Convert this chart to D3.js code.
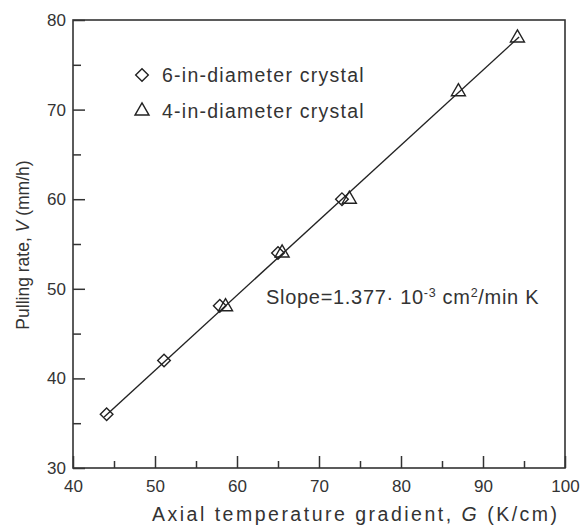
<!DOCTYPE html>
<html>
<head>
<meta charset="utf-8">
<script src="https://cdn.jsdelivr.net/npm/d3@7"></script>
<style>
  html, body { margin: 0; padding: 0; background: #fff; }
  svg { display: block; font-family: "Liberation Sans", Arial, sans-serif; }
</style>
</head>
<body>
<svg id="chart" width="581" height="529"></svg>
<script>
// ---- data ----
const crystal6G = [44.1, 51.1, 57.9, 65.0, 72.8];
const crystal6V = [36.0, 42.0, 48.1, 54.0, 60.0];
const crystal4G = [58.6, 65.5, 73.7, 87.0, 94.2];
const crystal4V = [48.0, 54.0, 60.0, 72.0, 78.0];
const fitG = [43.8, 94.4];
const fitV = [35.7, 78.1];
const xTicks = [40, 50, 60, 70, 80, 90, 100];
const xMinor = [45, 55, 65, 75, 85, 95];
const yTicks = [30, 40, 50, 60, 70, 80];
const yMinor = [35, 45, 55, 65, 75];
const legendLabels = ["6-in-diameter crystal", "4-in-diameter crystal"];

const W = 581, H = 529;
const m = {left: 73, top: 20, right: 16, bottom: 61};
const iw = W - m.left - m.right, ih = H - m.top - m.bottom;
const ink = "#333";

const svg = d3.select("#chart");
const g = svg.append("g").attr("transform", `translate(${m.left},${m.top})`);

const x = d3.scaleLinear().domain([40, 100]).range([0, iw]);
const y = d3.scaleLinear().domain([30, 80]).range([ih, 0]);

// frame
g.append("rect").attr("x", 0).attr("y", 0).attr("width", iw).attr("height", ih)
  .attr("fill", "none").attr("stroke", ink).attr("stroke-width", 1.6);

// bottom axis (ticks inward)
g.append("g").attr("transform", `translate(0,${ih})`)
  .call(d3.axisBottom(x).tickValues(xTicks).tickSize(-12).tickPadding(12).tickFormat(d3.format("d")));
g.append("g").attr("transform", `translate(0,${ih})`)
  .call(d3.axisBottom(x).tickValues(xMinor).tickSize(-7).tickFormat(""));
// left axis
g.append("g")
  .call(d3.axisLeft(y).tickValues(yTicks).tickSize(-12).tickPadding(7).tickFormat(d3.format("d")));
g.append("g")
  .call(d3.axisLeft(y).tickValues(yMinor).tickSize(-8).tickFormat(""));

g.selectAll(".domain").remove();
g.selectAll(".tick line").attr("stroke", ink).attr("stroke-width", 1.5);
g.selectAll(".tick text").attr("fill", ink).attr("font-size", 17)
  .attr("font-family", "Liberation Sans, Arial, sans-serif");

// fit line
const fit = fitG.map((v, i) => [v, fitV[i]]);
g.append("path").datum(fit)
  .attr("d", d3.line().x(d => x(d[0])).y(d => y(d[1])))
  .attr("fill", "none").attr("stroke", "#222").attr("stroke-width", 1.4);

// markers
const diamond = d3.symbol(d3.symbolSquare, 80)();
const tri = d3.symbol(d3.symbolTriangle, 85)();
const d6 = crystal6G.map((v, i) => [v, crystal6V[i]]);
const d4 = crystal4G.map((v, i) => [v, crystal4V[i]]);
g.selectAll(".m6").data(d6).join("path")
  .attr("d", diamond)
  .attr("transform", d => `translate(${x(d[0])},${y(d[1])}) rotate(45)`)
  .attr("fill", "none").attr("stroke", "#222").attr("stroke-width", 1.4);
g.selectAll(".m4").data(d4).join("path")
  .attr("d", tri)
  .attr("transform", d => `translate(${x(d[0])},${y(d[1])})`)
  .attr("fill", "none").attr("stroke", "#222").attr("stroke-width", 1.4);

// legend
const leg = svg.append("g");
leg.append("path").attr("d", diamond).attr("transform", "translate(142,75) rotate(45)")
  .attr("fill", "none").attr("stroke", "#222").attr("stroke-width", 1.4);
leg.append("path").attr("d", tri).attr("transform", "translate(142,111)")
  .attr("fill", "none").attr("stroke", "#222").attr("stroke-width", 1.4);
leg.selectAll("text").data(legendLabels).join("text")
  .attr("x", 162).attr("y", (d, i) => 82 + i * 36)
  .attr("font-size", 19.5).attr("fill", ink).attr("letter-spacing", 1.25)
  .text(d => d);

// slope annotation
const st = svg.append("text").attr("x", 266).attr("y", 304)
  .attr("font-size", 20).attr("fill", ink).attr("letter-spacing", 0.7);
st.append("tspan").text("Slope=1.377\u00B7 10");
st.append("tspan").attr("dy", -7).attr("font-size", 12.5).text("-3");
st.append("tspan").attr("dy", 7).text(" cm");
st.append("tspan").attr("dy", -7).attr("font-size", 12.5).text("2");
st.append("tspan").attr("dy", 7).text("/min K");

// axis titles
const xt = svg.append("text").attr("x", 152).attr("y", 521)
  .attr("font-size", 19.5).attr("fill", ink).attr("letter-spacing", 2.5);
xt.append("tspan").text("Axial temperature gradient, ");
xt.append("tspan").attr("font-style", "italic").text("G");
xt.append("tspan").text("  (K/cm)");

const yt = svg.append("text").attr("transform", "translate(29,245) rotate(-90)")
  .attr("text-anchor", "middle").attr("font-size", 17.5).attr("fill", ink);
yt.append("tspan").text("Pulling rate, ");
yt.append("tspan").attr("font-style", "italic").text("V");
yt.append("tspan").text(" (mm/h)");
</script>
</body>
</html>
